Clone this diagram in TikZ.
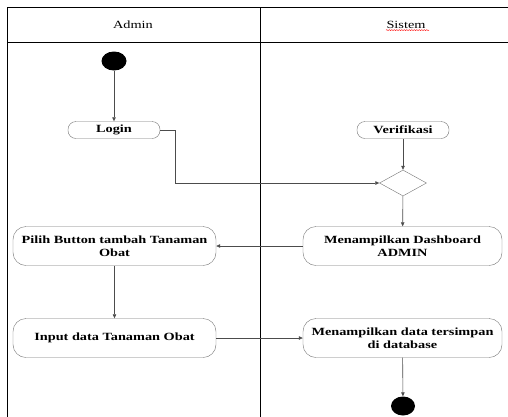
\documentclass[tikz,border=0pt]{standalone}
\usepackage{fontspec}
\setmainfont[FakeStretch=1.3]{Liberation Serif}
\usetikzlibrary{arrows.meta,shapes.geometric,decorations.pathmorphing}

\begin{document}
\begin{tikzpicture}[x=1pt,y=-1pt,font=\fontsize{11}{13}\selectfont,
  lane/.style={draw=black, line width=0.8pt},
  act/.style={draw=black!55, rounded corners=13pt, font=\fontsize{11}{13}\selectfont\bfseries,
    align=center, minimum height=39pt, inner sep=0pt},
  small/.style={draw=black!55, rounded corners=8pt, font=\fontsize{11}{13}\selectfont\bfseries,
    minimum width=92pt, minimum height=17pt, inner sep=0pt},
  dot/.style={ellipse, fill=black, inner sep=0pt, minimum width=25pt, minimum height=19pt},
  flow/.style={draw=black!70, line width=0.6pt, -{Triangle[length=4pt,width=3.5pt]}}]
\useasboundingbox (0,0) rectangle (508,416);

% swimlanes
\draw[lane] (508,7) -- (7,7) -- (7,420);
\draw[lane] (7,42) -- (508,42);
\draw[lane] (260,7) -- (260,420);
\node (admin) at (133,25) {Admin};
\node (sistem) at (406,25) {Sistem};
\draw[red, decorate, decoration={snake, amplitude=0.5pt, segment length=2.5pt}]
  ([yshift=-1.5pt]sistem.base west) ++(3pt,0) -- ([yshift=-1.5pt]sistem.base east);

% nodes
\node[dot] (start) at (114,61) {};
\node[small] (login) at (114,130) {Login};
\node[small] (verif) at (403,130) {Verifikasi};
\node[diamond, draw=black!55, inner sep=0pt, minimum width=47pt, minimum height=26pt] (cek) at (403,183) {};
\node[act, minimum width=199pt] (dash) at (402.5,246) {Menampilkan Dashboard\\ADMIN};
\node[act, minimum width=203pt] (pilih) at (114.5,246) {Pilih Button tambah Tanaman\\Obat};
\node[act, minimum width=203pt] (input) at (114.5,338) {Input data Tanaman Obat};
\node[act, minimum width=199pt] (simpan) at (402.5,338) {Menampilkan data tersimpan\\di database};
\node[dot, minimum width=24pt] (finish) at (403,406) {};

% connectors
\draw[flow] (start) -- (login);
\draw[flow] (login.east) -- ++(15,0) |- (cek.west);
\draw[flow] (verif) -- (cek);
\draw[flow] (cek) -- (dash);
\draw[flow] (dash) -- (pilih);
\draw[flow] (pilih) -- (input);
\draw[flow] (input) -- (simpan);
\draw[flow] (simpan) -- (finish);
\end{tikzpicture}
\end{document}
